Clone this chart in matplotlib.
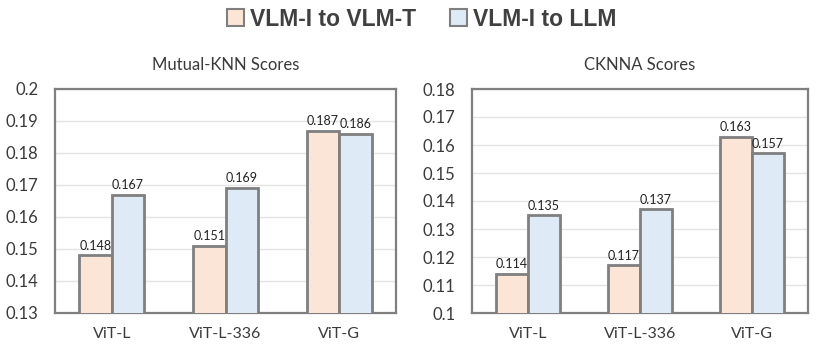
import matplotlib
matplotlib.use("Agg")
import matplotlib.pyplot as plt
import numpy as np
from matplotlib.patches import Patch

categories = ["ViT-L", "ViT-L-336", "ViT-G"]
series_names = ["VLM-I to VLM-T", "VLM-I to LLM"]
mknn_vlmt = [0.148, 0.151, 0.187]
mknn_llm = [0.167, 0.169, 0.186]
ckn_vlmt = [0.114, 0.117, 0.163]
ckn_llm = [0.135, 0.137, 0.157]
mknn_ticks = [0.13, 0.14, 0.15, 0.16, 0.17, 0.18, 0.19, 0.2]
ckn_ticks = [0.1, 0.11, 0.12, 0.13, 0.14, 0.15, 0.16, 0.17, 0.18]

plt.rcParams['font.family'] = ['Lato', 'DejaVu Sans']
c1, c2, ec = "#FBE5D6", "#DEEBF7", "#7F7F7F"
tc = "#3A3A3A"

fig = plt.figure(figsize=(8.22, 3.51), dpi=100)
W, H = 822, 351
def ax_at(l, t, r, b):
    return fig.add_axes([l / W, 1 - b / H, (r - l) / W, (b - t) / H])

ax1 = ax_at(55, 89, 396, 313)
ax2 = ax_at(472, 89, 808, 313)

def draw(ax, a, b, ticks, title):
    x = np.arange(len(categories))
    w = 0.285
    ax.bar(x - w / 2, a, w, color=c1, edgecolor=ec, linewidth=2, zorder=3)
    ax.bar(x + w / 2, b, w, color=c2, edgecolor=ec, linewidth=2, zorder=3)
    for xi, v in zip(x - w / 2, a):
        ax.text(xi, v + 0.0012, f"{v:.3f}", ha="center", va="bottom", fontsize=9, color="#222222", zorder=4)
    for xi, v in zip(x + w / 2, b):
        ax.text(xi, v + 0.0012, f"{v:.3f}", ha="center", va="bottom", fontsize=9, color="#222222", zorder=4)
    ax.set_xlim(-0.5, len(categories) - 0.5)
    ax.set_ylim(ticks[0], ticks[-1])
    ax.set_yticks(ticks)
    ax.set_yticklabels([f"{t:g}" for t in ticks], fontsize=12, color=tc)
    ax.set_xticks(x)
    ax.set_xticklabels(categories, fontsize=11.5, color=tc)
    ax.tick_params(axis="y", length=0, pad=12)
    ax.tick_params(axis="x", length=0, pad=10)
    ax.yaxis.grid(True, color="#E3E3E3", linewidth=1, zorder=0)
    for s in ax.spines.values():
        s.set_color(ec)
        s.set_linewidth(1.6)
    ax.set_title(title, fontsize=12, color=tc, pad=14)

draw(ax1, mknn_vlmt, mknn_llm, mknn_ticks, "Mutual-KNN Scores")
draw(ax2, ckn_vlmt, ckn_llm, ckn_ticks, "CKNNA Scores")

handles = [Patch(facecolor=c1, edgecolor=ec, linewidth=1.5), Patch(facecolor=c2, edgecolor=ec, linewidth=1.5)]
fig.legend(handles, series_names, loc="center", bbox_to_anchor=(0.513, 1 - 19 / H), ncol=2, frameon=False,
           prop={"family": "Liberation Sans", "weight": "bold", "size": 16.5}, handlelength=0.75, handleheight=0.75,
           handletextpad=0.25, columnspacing=1.5, labelcolor="#404040")

fig.savefig("out.png", dpi=100)
